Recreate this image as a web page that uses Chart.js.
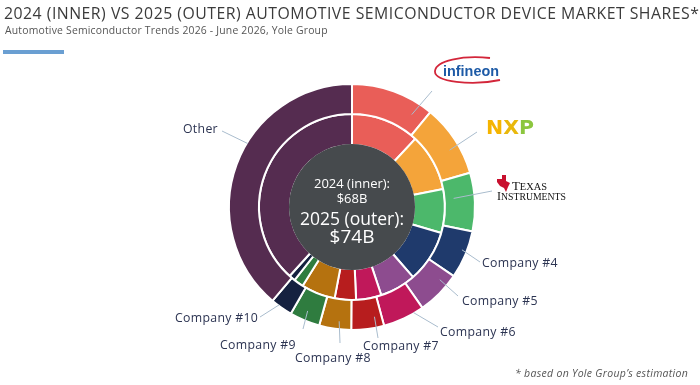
<!DOCTYPE html>
<html>
<head>
<meta charset="utf-8">
<script src="https://cdn.jsdelivr.net/npm/chart.js@4.4.1/dist/chart.umd.min.js"></script>
<style>
  html, body { margin:0; padding:0; background:#fff; }
  #wrap { position:relative; width:700px; height:385px; overflow:hidden; font-family:"Open Sans", sans-serif; }
  #c { position:absolute; left:0; top:0; }
  .abs { position:absolute; white-space:nowrap; }
  #title { left:4px; top:2px; font-size:15.8px; color:#3b3b3b; letter-spacing:0.5px; }
  #sub { left:5px; top:23px; font-size:10.4px; color:#555; letter-spacing:0.2px; }
  #bar { left:3px; top:50px; width:61px; height:4px; background:#6a9fd2; }
  #foot { left:515px; top:366px; font-size:10.5px; color:#555; font-style:italic; letter-spacing:0.3px; }
  .lab { font-size:12.3px; color:#2c3452; transform:translateY(-50%); letter-spacing:0.3px; }
  .ctr { left:252px; width:200px; text-align:center; color:#fff; transform:translateY(-50%); }
</style>
</head>
<body>
<div id="wrap">
  <canvas id="c" width="700" height="385"></canvas>
  <div id="title" class="abs">2024 (INNER) VS 2025 (OUTER) AUTOMOTIVE SEMICONDUCTOR DEVICE MARKET SHARES*</div>
  <div id="sub" class="abs">Automotive Semiconductor Trends 2026 - June 2026, Yole Group</div>
  <div id="bar" class="abs"></div>
  <div id="foot" class="abs">* based on Yole Group’s estimation</div>
  <div id="labels"></div>
  <div id="center"></div>
  <!-- Infineon logo -->
  <svg class="abs" style="left:432px;top:55px;" width="72" height="32" viewBox="0 0 72 32">
    <path d="M 58 3 C 30 0, 4 6, 3 16 C 2 27, 40 31, 68 25" fill="none" stroke="#d3263a" stroke-width="1.8"/>
    <text x="11" y="21" font-family="Liberation Sans, Arial" font-weight="bold" font-size="15.5" fill="#1d5aa6" textLength="56" lengthAdjust="spacingAndGlyphs">infineon</text>
  </svg>
  <!-- NXP logo -->
  <svg class="abs" style="left:485px;top:114px;" width="52" height="24" viewBox="0 0 52 24">
    <text x="1" y="20" font-family="DejaVu Sans, sans-serif" font-weight="bold" font-size="19" textLength="48" lengthAdjust="spacingAndGlyphs"><tspan fill="#f5b400">N</tspan><tspan fill="#e9b80c">X</tspan><tspan fill="#8cc63f">P</tspan></text>
  </svg>
  <!-- TI logo -->
  <svg class="abs" style="left:495px;top:173px;" width="74" height="28" viewBox="0 0 74 28">
    <path d="M 2 6 L 7 6 L 7 2 L 11 2 L 11 8 L 15 10 L 13 14 L 11 19 L 9 15 L 5 13 L 2 9 Z" fill="#c8102e"/>
    <text x="17" y="17" font-family="Liberation Serif, serif" font-size="13" fill="#111" textLength="35" lengthAdjust="spacingAndGlyphs">T<tspan font-size="10.5">EXAS</tspan></text>
    <text x="2" y="26.5" font-family="Liberation Serif, serif" font-size="13" fill="#111" textLength="69" lengthAdjust="spacingAndGlyphs">I<tspan font-size="10.5">NSTRUMENTS</tspan></text>
  </svg>
</div>
<script>
// ---- Data ----
const categories = ["Infineon", "NXP", "Texas Instruments", "Company #4", "Company #5", "Company #6", "Company #7", "Company #8", "Company #9", "Company #10", "Other"];
const share2025 = [11.0, 9.5, 7.7, 6.3, 5.8, 5.5, 4.3, 4.2, 4.0, 2.9, 38.8];   // outer ring, %
const share2024 = [11.9, 10.0, 7.6, 9.1, 6.3, 4.4, 3.7, 5.9, 1.7, 1.1, 38.3];  // inner ring, %
const centerLabels = ["2024 (inner):", "$68B", "2025 (outer):", "$74B"];
const colors = ["#e95e58", "#f4a43a", "#4cb86b", "#1f3a6c", "#8d4c8f", "#c0185a", "#b71d1e", "#b5720f", "#2f7c3f", "#152140", "#552c50"];

// ---- layout (text boxes, leader-line anchors) ----
const centerLayout = [[183, 13], [198, 13], [218, 17.5], [236, 19]];
const labelLayout = [
  {text:null, end:[432,91], f:0.83, r:-13},
  {text:null, end:[477,132], f:0.59, r:-10},
  {text:null, end:[492,191], f:0.41, r:-21},
  {text:"Company #4", x:482, y:262, end:[480,262], f:0.43, r:-5},
  {text:"Company #5", x:462, y:300, end:[458,296], f:0.26, r:-9},
  {text:"Company #6", x:440, y:331, end:[438,327], f:0.24, r:-1},
  {text:"Company #7", x:363, y:345, end:[378,338], f:0.23, r:-11},
  {text:"Company #8", x:295, y:357, end:[340,343], f:0.4, r:-8},
  {text:"Company #9", x:220, y:344, end:[303,329], f:0.53, r:-10},
  {text:"Company #10", x:175, y:316.5, end:[260,317], f:0.65, r:-1},
  {text:"Other", x:183, y:128, end:[222,131], f:0.58, r:-1}
];
const labelsDiv = document.getElementById('labels');
labelLayout.forEach((l, i) => {
  if (!l.text) return;
  const d = document.createElement('div');
  d.className = 'abs lab';
  d.style.left = l.x + 'px'; d.style.top = l.y + 'px';
  d.textContent = categories[i];
  labelsDiv.appendChild(d);
});
const centerDiv = document.getElementById('center');
centerLabels.forEach((t, i) => {
  const d = document.createElement('div');
  d.className = 'abs ctr';
  d.style.top = centerLayout[i][0] + 'px';
  d.style.fontSize = centerLayout[i][1] + 'px';
  d.textContent = t;
  centerDiv.appendChild(d);
});

const centerPlugin = {
  id: 'centerDisk',
  afterDatasetsDraw(chart) {
    const meta = chart.getDatasetMeta(1);
    const arc = meta.data[0];
    const {x, y, innerRadius} = arc.getProps(['x','y','innerRadius'], true);
    const ctx = chart.ctx;
    ctx.save();
    ctx.beginPath();
    ctx.arc(x, y, innerRadius + 1, 0, Math.PI*2);
    ctx.fillStyle = '#464a4d';
    ctx.fill();
    // leader lines from the outer ring
    const outer = chart.getDatasetMeta(0);
    ctx.strokeStyle = '#a9bccd';
    ctx.lineWidth = 1;
    outer.data.forEach((a, i) => {
      const p = a.getProps(['x','y','startAngle','endAngle','outerRadius','innerRadius'], true);
      const L = labelLayout[i];
      const ang = p.startAngle + (p.endAngle - p.startAngle) * L.f;
      const r = p.outerRadius + L.r;
      const x1 = p.x + Math.cos(ang) * r, y1 = p.y + Math.sin(ang) * r;
      ctx.beginPath();
      ctx.moveTo(x1, y1);
      ctx.lineTo(L.end[0], L.end[1]);
      ctx.stroke();
    });
    ctx.restore();
  }
};

new Chart(document.getElementById('c'), {
  type: 'doughnut',
  data: {
    labels: categories,
    datasets: [
      { label: '2025', data: share2025, backgroundColor: colors, borderColor: '#fff', borderWidth: 2, weight: 30 },
      { label: '2024', data: share2024, backgroundColor: colors, borderColor: '#fff', borderWidth: 2, weight: 31 }
    ]
  },
  options: {
    responsive: false,
    animation: false,
    cutout: 62,
    layout: { padding: { left: 228, right: 224, top: 83, bottom: 54 } },
    plugins: { legend: { display: false }, tooltip: { enabled: false } },
    events: []
  },
  plugins: [centerPlugin]
});
</script>
</body>
</html>
